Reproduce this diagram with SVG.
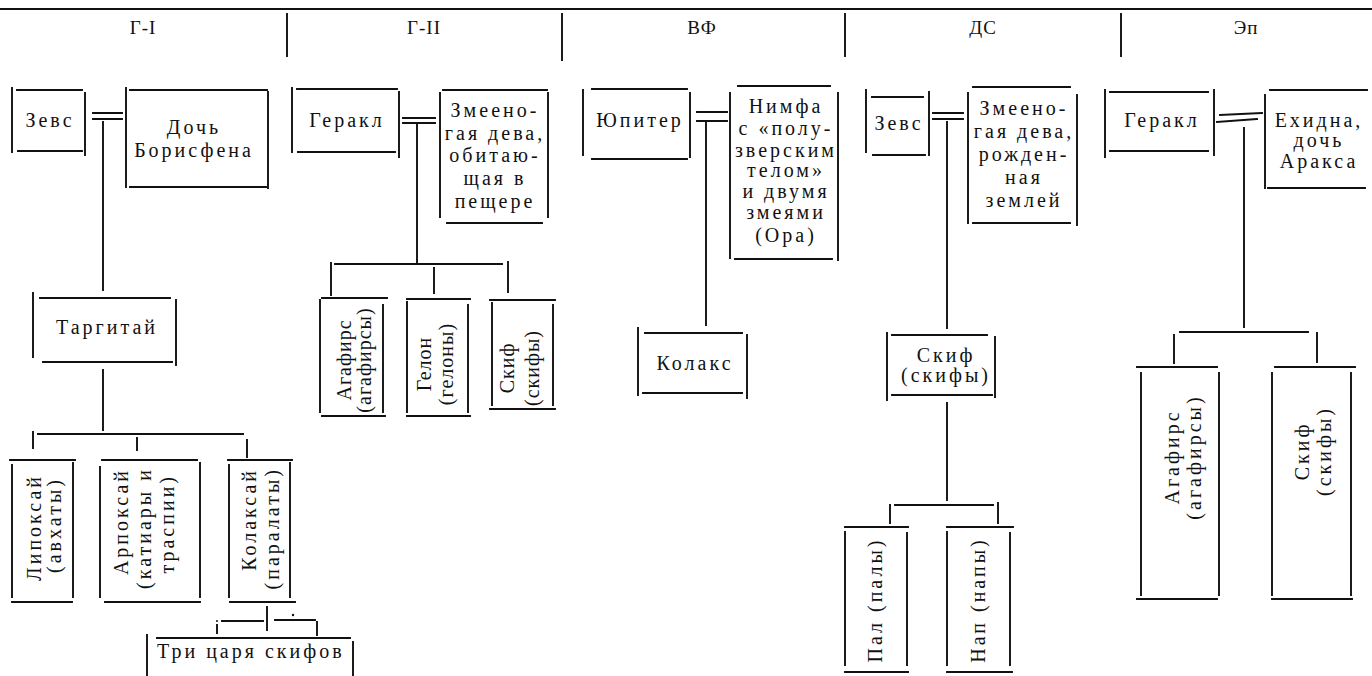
<svg xmlns="http://www.w3.org/2000/svg" width="1372" height="676" viewBox="0 0 1372 676">
<style>
.ln{stroke:#111;stroke-width:1.9;fill:none;stroke-linecap:square}
.t{font-family:"Liberation Serif",serif;font-size:20px;letter-spacing:3px;fill:#111}
.n{letter-spacing:1px}
.m{text-anchor:middle}
.e{text-anchor:end}
.h{font-family:"Liberation Serif",serif;font-size:19px;letter-spacing:1px;fill:#111;text-anchor:middle}
</style>
<rect width="1372" height="676" fill="#fff"/>
<g id="header">
<path class="ln" d="M0 9H1372" stroke-width="2.2"/>
<path class="ln" d="M287 14V56 M562 14V60 M845 14V56 M1121 14V56"/>
<text class="h" x="143" y="34">Г-I</text>
<text class="h" x="424" y="34">Г-II</text>
<text class="h" x="702" y="34">ВФ</text>
<text class="h" x="983" y="34">ДС</text>
<text class="h" x="1246" y="34">Эп</text>
</g>
<g id="connectors">
<path class="ln" d="M93 113H122 M93 119H122 M103 122V290 M103 370V430 M38 434H243 M33 432V448 M137 438V450 M247 440V457 M267 607V630 M222 621H263 M275 620H315 M217 625V633 M317 622V635"/>
<circle cx="293" cy="615" r="1.2" fill="#111"/>
<circle cx="217" cy="621" r="1" fill="#111"/>
<path class="ln" d="M403 118H435 M403 123H435 M417 125V264 M335 264H502 M331 263V295 M434 268V293 M508 262V292"/>
<path class="ln" d="M697 112H727 M697 121H727 M706 123V325"/>
<path class="ln" d="M933 113H963 M933 119H963 M947 122V328 M947 403V500 M895 505H993 M890 505V523 M998 503V523"/>
<path class="ln" d="M1220 115L1262 113 M1217 122L1257 119 M1244 128V327 M1180 332H1308 M1174 335V363 M1317 333V362"/>
</g>
<g id="g1-zevs"><path class="ln" d="M12 88V152 M17 90H82 M18 151H82 M85 93V155"/><text class="t m" x="50" y="127">Зевс</text></g>
<g id="g1-doch"><path class="ln" d="M126 88V187 M130 90H267 M268 92V188 M130 187H266"/><text class="t m" x="194" y="134">Дочь</text><text class="t m" x="194" y="157">Борисфена</text></g>
<g id="g1-targitai"><path class="ln" d="M33 293V357 M40 298H170 M176 300V365 M43 362H172"/><text class="t m" x="107" y="334">Таргитай</text></g>
<g id="g1-lipoksai"><path class="ln" d="M10 460H75 M12 465V597 M73 463V597 M12 602H72"/><text class="t e" transform="translate(41 474) rotate(-90)">Липоксай</text><text class="t e" transform="translate(61 477) rotate(-90)">(авхаты)</text></g>
<g id="g1-arpoksai"><path class="ln" d="M102 460H197 M100 467V597 M200 463V597 M105 602H200"/><text class="t e" transform="translate(128 468) rotate(-90)">Арпоксай</text><text class="t e" transform="translate(151 467) rotate(-90)">(катиары и</text><text class="t e" transform="translate(174 474) rotate(-90)">траспии)</text></g>
<g id="g1-kolaksai"><path class="ln" d="M228 460H292 M229 465V597 M290 463V597 M230 602H295"/><text class="t e" transform="translate(256 468) rotate(-90)">Колаксай</text><text class="t e" transform="translate(279 467) rotate(-90)">(паралаты)</text></g>
<g id="g1-tri-tsarya"><path class="ln" d="M157 638H350 M147 635V676 M353 642V676"/><text class="t" x="157" y="658">Три царя скифов</text></g>
<g id="g2-gerakl"><path class="ln" d="M292 88V152 M297 89H397 M399 92V157 M298 152H395"/><text class="t m" x="347" y="127">Геракл</text></g>
<g id="g2-deva"><path class="ln" d="M440 93V217 M443 90H547 M548 93V217 M447 223H542"/><text class="t m" x="495" y="117">Змеено-</text><text class="t m" x="495" y="140">гая дева,</text><text class="t m" x="495" y="162">обитаю-</text><text class="t m" x="495" y="185">щая в</text><text class="t m" x="495" y="208">пещере</text></g>
<g id="g2-agafirs"><path class="ln" d="M322 298H387 M320 300V412 M383 305V412 M322 416H385"/><text class="t n m" transform="translate(351 360) rotate(-90)">Агафирс</text><text class="t n m" transform="translate(371 360) rotate(-90)">(агафирсы)</text></g>
<g id="g2-gelon"><path class="ln" d="M407 299H470 M407 302V412 M468 305V412 M407 416H470"/><text class="t n m" transform="translate(431 364) rotate(-90)">Гелон</text><text class="t n m" transform="translate(453 364) rotate(-90)">(гелоны)</text></g>
<g id="g2-skif"><path class="ln" d="M490 300H555 M492 303V405 M553 305V405 M490 409H555"/><text class="t n m" transform="translate(514 368) rotate(-90)">Скиф</text><text class="t n m" transform="translate(539 368) rotate(-90)">(скифы)</text></g>
<g id="v-jupiter"><path class="ln" d="M583 90V155 M592 89H687 M690 93V157 M592 159H687"/><text class="t m" x="640" y="127">Юпитер</text></g>
<g id="v-nimfa"><path class="ln" d="M730 93V258 M738 86H830 M838 93V260 M735 259H832"/><text class="t m" x="786" y="113">Нимфа</text><text class="t m" x="786" y="135">с «полу-</text><text class="t m" x="786" y="157">зверским</text><text class="t m" x="786" y="177">телом»</text><text class="t m" x="786" y="198">и двумя</text><text class="t m" x="786" y="219">змеями</text><text class="t m" x="786" y="242">(Ора)</text></g>
<g id="v-kolaks"><path class="ln" d="M638 328V395 M645 333H742 M747 335V398 M643 393H742"/><text class="t m" x="695" y="370">Колакс</text></g>
<g id="d-zevs"><path class="ln" d="M866 90V152 M872 97H923 M929 92V155 M873 155H925"/><text class="t m" x="899" y="130">Зевс</text></g>
<g id="d-deva"><path class="ln" d="M968 93V223 M973 87H1070 M1077 95V225 M973 223H1070"/><text class="t m" x="1024" y="115">Змеено-</text><text class="t m" x="1024" y="138">гая дева,</text><text class="t m" x="1024" y="161">рожден-</text><text class="t m" x="1024" y="184">ная</text><text class="t m" x="1024" y="207">землей</text></g>
<g id="d-skif"><path class="ln" d="M887 333V400 M892 335H987 M995 337V397 M892 395H992"/><text class="t m" x="946" y="362">Скиф</text><text class="t m" x="946" y="382">(скифы)</text></g>
<g id="d-pal"><path class="ln" d="M845 527H908 M845 532V665 M907 533V665 M845 672H908"/><text class="t m" transform="translate(882 600) rotate(-90)">Пал (палы)</text></g>
<g id="d-nap"><path class="ln" d="M947 527H1013 M947 532V665 M1010 533V665 M947 672H1012"/><text class="t m" transform="translate(985 600) rotate(-90)">Нап (напы)</text></g>
<g id="e-gerakl"><path class="ln" d="M1105 90V157 M1110 92H1208 M1214 90V155 M1110 151H1208"/><text class="t m" x="1162" y="127">Геракл</text></g>
<g id="e-ekhidna"><path class="ln" d="M1265 95V188 M1270 90H1367 M1268 188H1365"/><text class="t m" x="1319" y="127">Ехидна,</text><text class="t m" x="1319" y="147">дочь</text><text class="t m" x="1319" y="168">Аракса</text></g>
<g id="e-agafirs"><path class="ln" d="M1137 367H1217 M1141 373V595 M1219 373V595 M1137 599H1217"/><text class="t m" transform="translate(1179 457) rotate(-90)">Агафирс</text><text class="t m" transform="translate(1201 457) rotate(-90)">(агафирсы)</text></g>
<g id="e-skif"><path class="ln" d="M1275 367H1355 M1272 373V595 M1351 373V595 M1272 599H1352"/><text class="t m" transform="translate(1309 451) rotate(-90)">Скиф</text><text class="t m" transform="translate(1331 451) rotate(-90)">(скифы)</text></g>
</svg>
